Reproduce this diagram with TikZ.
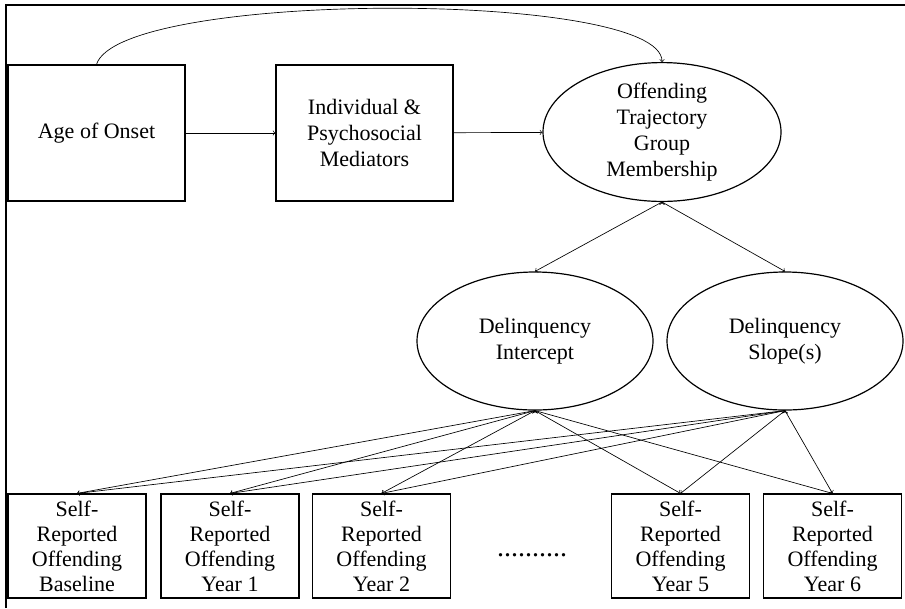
\documentclass[tikz,border=0pt]{standalone}
\usepackage{fontspec}
\setmainfont{Liberation Serif}
\usetikzlibrary{shapes}
\usetikzlibrary{positioning}

\begin{document}
\begin{tikzpicture}[
    x=0.75pt, y=-0.75pt,
    font=\fontsize{16.5}{19.5}\selectfont
]
\tikzset{
    mybox/.style = {rectangle, draw=black, line width=0.9pt, align=center,
                    minimum width=132.75pt, minimum height=102pt, inner sep=2pt},
    myoval/.style = {ellipse, draw=black, line width=0.9pt, align=center,
                     minimum width=177pt, minimum height=103.5pt, inner sep=0pt},
    myobs/.style = {rectangle, draw=black, line width=0.9pt, align=center,
                    minimum width=103.5pt, minimum height=78pt, inner sep=1pt,
                    font=\fontsize{16.5}{18.75}\selectfont},
    edgen/.style = {->, line width=0.5pt}
}
\useasboundingbox (0,0) rectangle (905,608);
\draw[line width=0.9pt] (6,608) -- (6,5) -- (905,5);
% top row
\node[mybox]  at (96.5,133) (age) {Age of Onset};
\node[mybox]  at (364.5,133) (med) {Individual \&\\Psychosocial\\Mediators};
\node[myoval, minimum width=178.5pt, minimum height=104pt] at (662,132) (traj) {Offending\\Trajectory\\Group\\Membership};
% growth factors
\node[myoval] at (535,341) (icpt) {Delinquency\\Intercept};
\node[myoval] at (785,341) (slope) {Delinquency\\Slope(s)};
% observed waves
\node[myobs] at (77,546)    (w0) {Self-\\Reported\\Offending\\Baseline};
\node[myobs] at (230,546)   (w1) {Self-\\Reported\\Offending\\Year 1};
\node[myobs] at (381.5,546) (w2) {Self-\\Reported\\Offending\\Year 2};
\node[myobs] at (680.5,546) (w5) {Self-\\Reported\\Offending\\Year 5};
\node[myobs] at (832.5,546) (w6) {Self-\\Reported\\Offending\\Year 6};
\node[anchor=base, font=\fontsize{21}{21}\selectfont] at (532,556) (dots) {..........};
% paths
\draw[edgen] (age) edge (med);
\draw[edgen] (med) edge (traj);
\draw[edgen] (age.north) .. controls (120,-10) and (662,-10) .. (traj.north);
\draw[edgen] (traj.south) edge (icpt.north);
\draw[edgen] (traj.south) edge (slope.north);
\foreach \w in {w0,w1,w2,w5,w6} {
    \draw[edgen] (icpt.south) edge (\w.north);
    \draw[edgen] (slope.south) edge (\w.north);
}
\end{tikzpicture}
\end{document}
